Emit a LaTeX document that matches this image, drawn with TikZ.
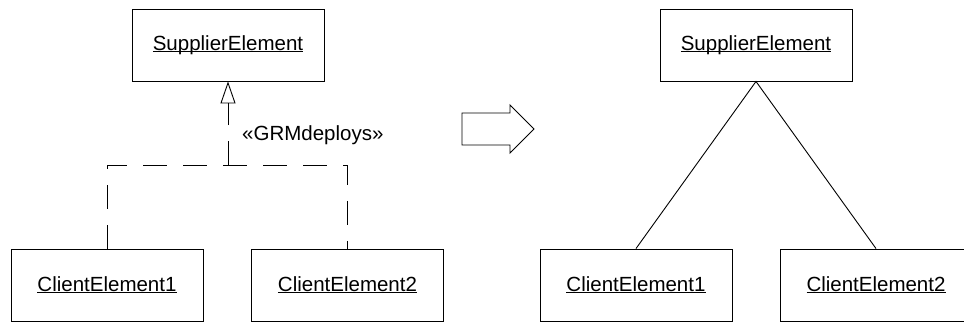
\documentclass[tikz,border=0pt]{standalone}
\usepackage{fontspec}
\setmainfont{Liberation Sans}
\usetikzlibrary{arrows.meta}
\newcommand{\myul}[1]{\setbox0\hbox{#1}\rlap{\rule[-1.6pt]{\wd0}{0.9pt}}\box0}
\tikzset{
  umlbox/.style={draw, line width=0.9pt, minimum width=192pt, minimum height=72pt, inner sep=0pt, font=\fontsize{20.5pt}{24pt}\selectfont},
  conn/.style={line width=0.9pt},
  dashconn/.style={line width=0.9pt, dash pattern=on 24pt off 16pt},
  lbl/.style={font=\fontsize{20.5pt}{24pt}\selectfont, inner sep=0pt, anchor=west}
}
\begin{document}
\begin{tikzpicture}[x=1pt,y=-1pt]
\clip (0,0) rectangle (964,322);
\useasboundingbox (0,0) rectangle (964,322);
\fill[white] (0,0) rectangle (964,322);
% left diagram
\node[umlbox] (s1) at (228,45) {\myul{SupplierElement}};
\node[umlbox] (c1) at (107,285) {\myul{ClientElement1}};
\node[umlbox] (c2) at (347.5,285) {\myul{ClientElement2}};
\coordinate (j1) at (107,165);
\coordinate (j2) at (347.5,165);
\coordinate (jm) at (228,165);
\draw[dashconn] (c1.north) -- (j1) -- (j2) -- (c2.north);
\draw[dashconn, -{Triangle[open, length=22pt, width=15pt, line width=0.9pt]}] (jm) -- (s1.south);
\node[lbl] (st) at (242,135) {«GRMdeploys»};
% transformation arrow
\draw[conn, fill=white] (462,113) -- (510,113) -- (510,105) -- (534,129) -- (510,153) -- (510,145) -- (462,145) -- cycle;
% right diagram
\node[umlbox] (s2) at (756,45) {\myul{SupplierElement}};
\node[umlbox] (d1) at (636,285) {\myul{ClientElement1}};
\node[umlbox] (d2) at (876,285) {\myul{ClientElement2}};
\draw[conn] (d1.north) -- (s2.south) -- (d2.north);
\end{tikzpicture}
\end{document}
